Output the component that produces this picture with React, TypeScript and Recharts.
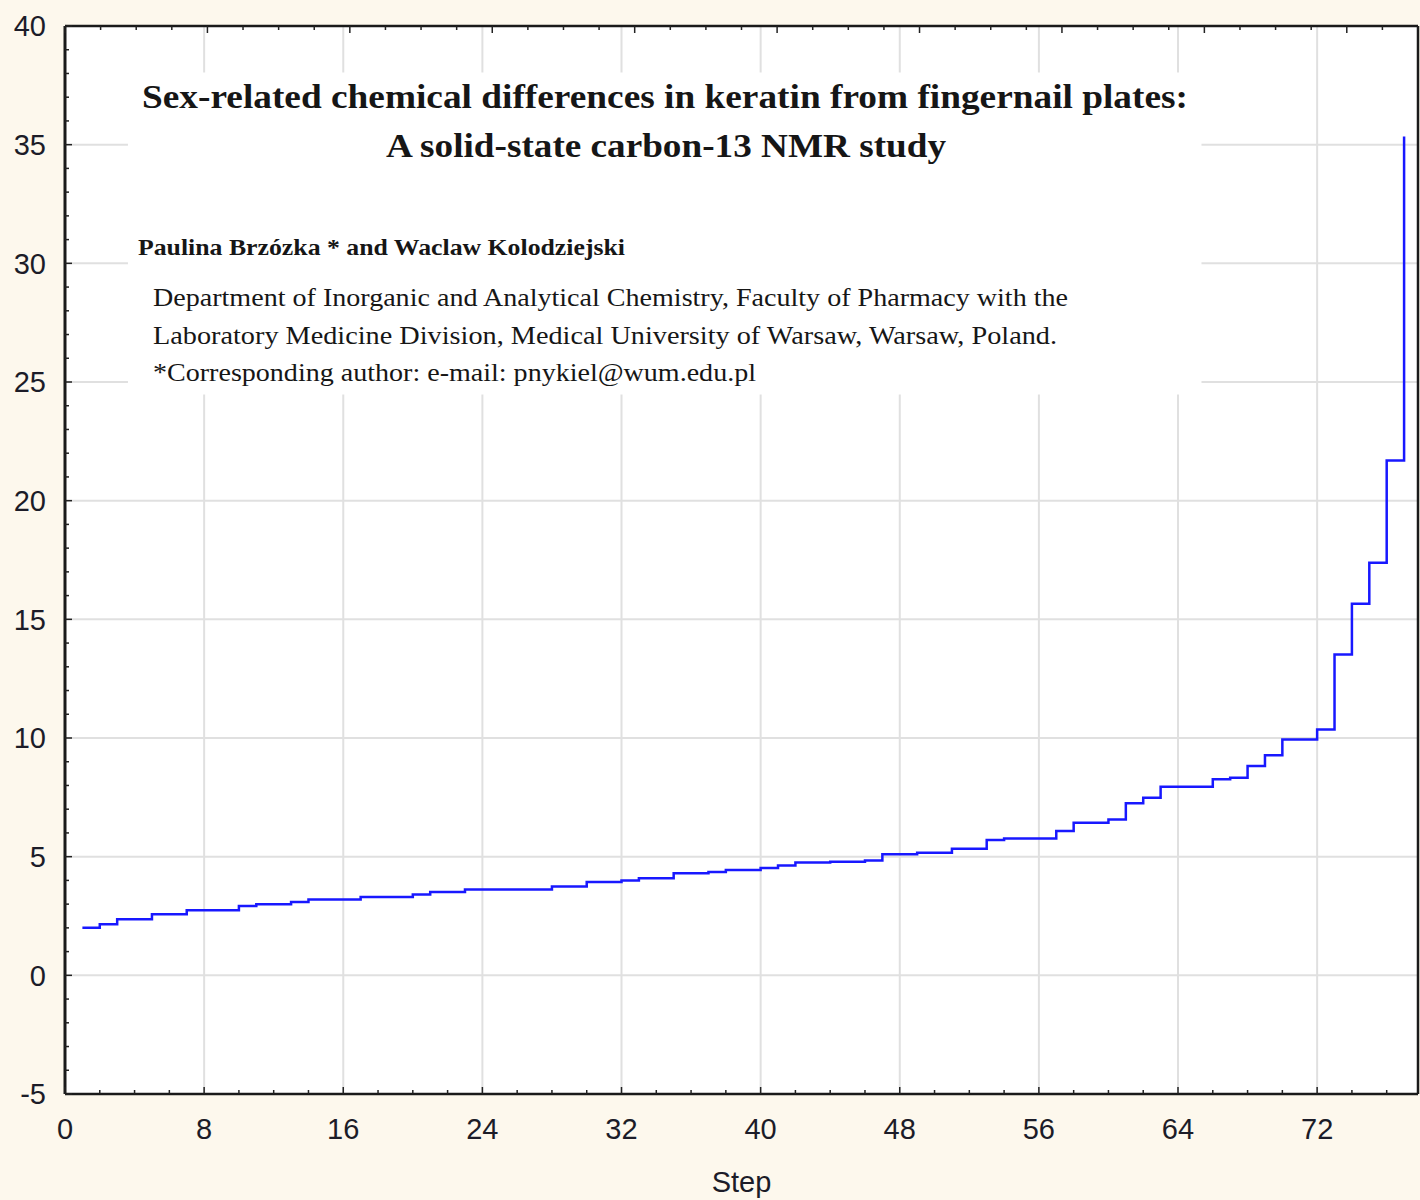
import { LineChart, Line, XAxis, YAxis, CartesianGrid, ReferenceArea, Label } from 'recharts';

// values, one per step (1..77)
const values = [
  2.0, 2.15, 2.36, 2.36, 2.57, 2.57, 2.74, 2.74, 2.74, 2.92,
  2.99, 2.99, 3.09, 3.2, 3.2, 3.2, 3.3, 3.3, 3.3, 3.41,
  3.51, 3.51, 3.62, 3.62, 3.62, 3.62, 3.62, 3.74, 3.74, 3.93,
  3.93, 4.0, 4.09, 4.09, 4.3, 4.3, 4.35, 4.44, 4.44, 4.52,
  4.63, 4.75, 4.75, 4.79, 4.79, 4.84, 5.1, 5.1, 5.17, 5.17,
  5.33, 5.33, 5.7, 5.77, 5.77, 5.77, 6.08, 6.43, 6.43, 6.57,
  7.25, 7.48, 7.95, 7.95, 7.95, 8.26, 8.33, 8.82, 9.27, 9.94,
  9.94, 10.36, 13.52, 15.66, 17.38, 21.69, 35.34,
];
const steps = values.map((_, i) => i + 1);

const xMajor = [0, 8, 16, 24, 32, 40, 48, 56, 64, 72];
const xMinor = Array.from({ length: 39 }, (_, i) => i * 2);
const yMajor = [-5, 0, 5, 10, 15, 20, 25, 30, 35, 40];
const yMinor = Array.from({ length: 46 }, (_, i) => i - 5);

const xDomain = [0, 77.8];
const yDomain = [-5, 40];

// white panel behind the title block (data units)
const titleBox = { x1: 3.62, x2: 65.35, y1: 24.47, y2: 38.04 };

const data = steps.map((s, i) => ({ step: s, value: values[i] }));

const FONT = '"Liberation Sans", Arial, sans-serif';
const SERIF = '"Liberation Serif", "Times New Roman", serif';
const TICK_COLOR = '#222';
const LABEL_COLOR = '#1c1c28';
const X_MARGIN = 24;
const Y_MARGIN = 19;
const MAJOR_LEN = 7;
const MINOR_LEN = 4;

const BottomTick = (props: any) => {
  const { x, y, payload } = props;
  const v = payload.value;
  const major = xMajor.includes(v);
  const axisY = y - X_MARGIN;
  return (
    <g>
      <line x1={x} x2={x} y1={axisY} y2={axisY - (major ? MAJOR_LEN : MINOR_LEN)} stroke={TICK_COLOR} strokeWidth={1.5} />
      {major && (
        <text x={x} y={y} dy="0.71em" textAnchor="middle" fontSize={29} fontFamily={FONT} fill={LABEL_COLOR}>
          {v}
        </text>
      )}
    </g>
  );
};

const LeftTick = (props: any) => {
  const { x, y, payload } = props;
  const v = payload.value;
  const major = yMajor.includes(v);
  const axisX = x + Y_MARGIN;
  return (
    <g>
      <line x1={axisX} x2={axisX + (major ? MAJOR_LEN : MINOR_LEN)} y1={y} y2={y} stroke={TICK_COLOR} strokeWidth={1.5} />
      {major && (
        <text x={x} y={y} dy="0.355em" textAnchor="end" fontSize={29} fontFamily={FONT} fill={LABEL_COLOR}>
          {v}
        </text>
      )}
    </g>
  );
};

const TopTick = (props: any) => {
  const { x, y, payload } = props;
  const major = xMajor.includes(payload.value);
  return <line x1={x} x2={x} y1={y} y2={y + (major ? MAJOR_LEN : MINOR_LEN)} stroke={TICK_COLOR} strokeWidth={1.5} />;
};

const RightTick = (props: any) => {
  const { x, y, payload } = props;
  const major = yMajor.includes(payload.value);
  return <line x1={x} x2={x - (major ? MAJOR_LEN : MINOR_LEN)} y1={y} y2={y} stroke={TICK_COLOR} strokeWidth={1.5} />;
};

const textColor = '#161616';

export default function App() {
  return (
    <div style={{ position: 'relative', width: 1420, height: 1200, background: '#fdf8ed' }}>
      <style>{'body { margin: 0; background: #fdf8ed; }'}</style>
      <LineChart width={1420} height={1200} data={data} margin={{ top: 0, right: 0, bottom: 0, left: 0 }}>
        <CartesianGrid
          xAxisId="x"
          yAxisId="y"
          stroke="#e0e0e0"
          strokeWidth={2}
          fill="#ffffff"
          verticalValues={xMajor}
          horizontalValues={yMajor}
        />
        <ReferenceArea xAxisId="x" yAxisId="y" {...titleBox} fill="#ffffff" fillOpacity={1} stroke="none" />
        <XAxis
          xAxisId="x"
          type="number"
          dataKey="step"
          domain={xDomain}
          ticks={xMinor}
          interval={0}
          height={106}
          tickSize={0}
          tickMargin={X_MARGIN}
          tickLine={false}
          axisLine={{ stroke: '#1a1a1a', strokeWidth: 2.5 }}
          tick={<BottomTick />}
        >
          <Label value="Step" position="insideBottom" offset={8} fontSize={29} fontFamily={FONT} fill={LABEL_COLOR} />
        </XAxis>
        <XAxis
          xAxisId="xt"
          orientation="top"
          type="number"
          domain={xDomain}
          ticks={xMinor}
          interval={0}
          height={26}
          tickSize={0}
          tickMargin={0}
          tickLine={false}
          axisLine={{ stroke: '#1a1a1a', strokeWidth: 2.5 }}
          tick={<TopTick />}
        />
        <YAxis
          yAxisId="y"
          type="number"
          domain={yDomain}
          ticks={yMinor}
          interval={0}
          width={65}
          tickSize={0}
          tickMargin={Y_MARGIN}
          tickLine={false}
          axisLine={{ stroke: '#1a1a1a', strokeWidth: 3 }}
          tick={<LeftTick />}
        />
        <YAxis
          yAxisId="yr"
          orientation="right"
          type="number"
          domain={yDomain}
          ticks={yMinor}
          interval={0}
          width={2}
          tickSize={0}
          tickMargin={0}
          tickLine={false}
          axisLine={{ stroke: '#1a1a1a', strokeWidth: 2.5 }}
          tick={<RightTick />}
        />
        <Line
          xAxisId="x"
          yAxisId="y"
          type="stepAfter"
          dataKey="value"
          stroke="#1818ff"
          strokeWidth={2.5}
          dot={false}
          isAnimationActive={false}
        />
      </LineChart>
      <svg width={1420} height={1200} style={{ position: 'absolute', left: 0, top: 0, pointerEvents: 'none' }}>
        <g fontFamily={SERIF} fill={textColor}>
          <text x={142} y={108} fontSize={33} fontWeight="bold" textLength={1046} lengthAdjust="spacingAndGlyphs">
            Sex-related chemical differences in keratin from fingernail plates:
          </text>
          <text x={386} y={157} fontSize={33} fontWeight="bold" textLength={560} lengthAdjust="spacingAndGlyphs">
            A solid-state carbon-13 NMR study
          </text>
          <text x={138} y={255} fontSize={23} fontWeight="bold" textLength={487} lengthAdjust="spacingAndGlyphs">
            Paulina Brzózka * and Waclaw Kolodziejski
          </text>
          <text x={153} y={306} fontSize={25} textLength={915} lengthAdjust="spacingAndGlyphs">
            Department of Inorganic and Analytical Chemistry, Faculty of Pharmacy with the
          </text>
          <text x={153} y={344} fontSize={25} textLength={904} lengthAdjust="spacingAndGlyphs">
            Laboratory Medicine Division, Medical University of Warsaw, Warsaw, Poland.
          </text>
          <text x={153} y={381} fontSize={25} textLength={603} lengthAdjust="spacingAndGlyphs">
            *Corresponding author: e-mail: pnykiel@wum.edu.pl
          </text>
        </g>
      </svg>
    </div>
  );
}
